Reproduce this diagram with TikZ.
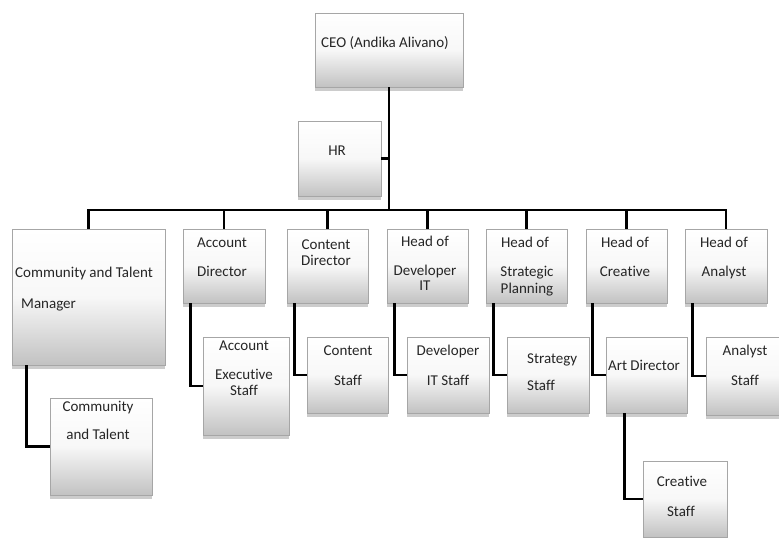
\documentclass[tikz,border=0pt]{standalone}
\usepackage{fontspec}
\setmainfont{Carlito}[Ligatures=NoCommon]
\usetikzlibrary{shadows}
\begin{document}
\begin{tikzpicture}[x=1pt,y=-1pt,
  box/.style={draw=black!35, line width=0.6pt, top color=white, bottom color=black!24, middle color=black!3,
    inner sep=0pt, drop shadow={shadow xshift=0pt, shadow yshift=-4pt, fill=black, opacity=0.2}},
  lbl/.style={inner sep=0pt, text=black!85, font=\fontsize{15}{17}\selectfont, text height=1.6ex, text depth=0.4ex},
  conn/.style={draw=black, line width=2.6pt}]
\useasboundingbox (0,0) rectangle (779,538);
% boxes
\node[box, minimum width=148pt, minimum height=74pt] (ceo) at (389,50) {};
\node[box, minimum width=83pt, minimum height=75pt] (hr) at (339.5,158.5) {};
\node[box, minimum width=153pt, minimum height=136pt] (ctm) at (88.5,297) {};
\node[box, minimum width=82pt, minimum height=74pt] (ad) at (224,266) {};
\node[box, minimum width=81pt, minimum height=74pt] (cd) at (327.5,266) {};
\node[box, minimum width=81pt, minimum height=74pt] (hdev) at (427.5,266) {};
\node[box, minimum width=81pt, minimum height=74pt] (hstr) at (526.5,266) {};
\node[box, minimum width=81pt, minimum height=74pt] (hcre) at (626.5,266) {};
\node[box, minimum width=82pt, minimum height=74pt] (hana) at (726,266) {};
\node[box, minimum width=102pt, minimum height=97pt] (ct) at (101,446.5) {};
\node[box, minimum width=86pt, minimum height=98pt] (aes) at (246,386) {};
\node[box, minimum width=81pt, minimum height=76pt] (cs) at (347.5,375) {};
\node[box, minimum width=82pt, minimum height=76pt] (dis) at (448,375) {};
\node[box, minimum width=82pt, minimum height=76pt] (ss) at (548,375) {};
\node[box, minimum width=81pt, minimum height=76pt] (art) at (646.5,375) {};
\node[box, minimum width=82pt, minimum height=78pt] (as) at (747,376) {};
\node[box, minimum width=84pt, minimum height=76pt] (crs) at (685,499) {};
% connectors
\coordinate (bus) at (389,210);
\draw[conn] (ceo.south) -- (bus);
\draw[conn] (hr.east) -- (hr.east -| ceo.south);
\draw[conn] (ctm.north) |- (bus);
\draw[conn] (ad.north) |- (bus);
\draw[conn] (cd.north) |- (bus);
\draw[conn] (hdev.north) |- (bus);
\draw[conn] (hstr.north) |- (bus);
\draw[conn] (hcre.north) |- (bus);
\draw[conn] (hana.north) |- (bus);
\draw[conn] ([xshift=15pt]ctm.south west) |- (ct.west);
\draw[conn] ([xshift=8pt]ad.south west) |- (aes.west);
\draw[conn] ([xshift=8pt]cd.south west) |- (cs.west);
\draw[conn] ([xshift=8pt]hdev.south west) |- (dis.west);
\draw[conn] ([xshift=8pt]hstr.south west) |- (ss.west);
\draw[conn] ([xshift=7pt]hcre.south west) |- (art.west);
\draw[conn] ([xshift=8pt]hana.south west) |- (as.west);
\draw[conn] ([xshift=19pt]art.south west) |- (crs.west);
% texts
\node[lbl] (tceo) at (385,45) {CEO (Andika Alivano)};
\node[lbl] (thr) at (337,153) {HR};
\node[lbl, anchor=west] (tctm1) at (15,275) {Community and Talent};
\node[lbl, anchor=west] (tctm2) at (21,306) {Manager};
\node[lbl] (tad1) at (222,245) {Account};
\node[lbl] (tad2) at (222,274) {Director};
\node[lbl] (tcd1) at (326,247) {Content};
\node[lbl] (tcd2) at (326,263) {Director};
\node[lbl] (thd1) at (425,244) {Head of};
\node[lbl] (thd2) at (425,273) {Developer};
\node[lbl] (thd3) at (425,288) {IT};
\node[lbl] (ths1) at (525,245) {Head of};
\node[lbl] (ths2) at (527,274) {Strategic};
\node[lbl] (ths3) at (527,291) {Planning};
\node[lbl] (thc1) at (625,245) {Head of};
\node[lbl] (thc2) at (625,274) {Creative};
\node[lbl] (tha1) at (724,245) {Head of};
\node[lbl] (tha2) at (724,274) {Analyst};
\node[lbl] (tct1) at (98,409) {Community};
\node[lbl] (tct2) at (98,437) {and Talent};
\node[lbl] (taes1) at (244,348) {Account};
\node[lbl] (taes2) at (244,377) {Executive};
\node[lbl] (taes3) at (244,393) {Staff};
\node[lbl] (tcs1) at (348,353) {Content};
\node[lbl] (tcs2) at (348,383) {Staff};
\node[lbl] (tdis1) at (448,353) {Developer};
\node[lbl] (tdis2) at (448,383) {IT Staff};
\node[lbl, anchor=west] (tss1) at (527,361) {Strategy};
\node[lbl, anchor=west] (tss2) at (527,388) {Staff};
\node[lbl] (tart) at (644,368) {Art Director};
\node[lbl] (tas1) at (745,353) {Analyst};
\node[lbl] (tas2) at (745,383) {Staff};
\node[lbl] (tcrs1) at (682,484) {Creative};
\node[lbl] (tcrs2) at (681,514) {Staff};
\end{tikzpicture}
\end{document}
